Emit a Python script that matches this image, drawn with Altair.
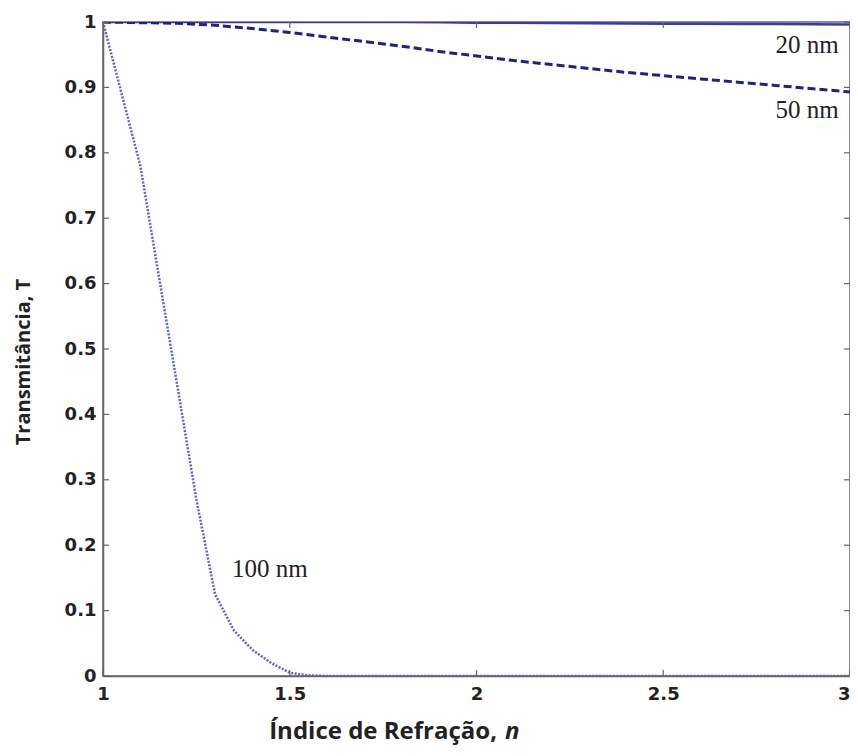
import altair as alt
import pandas as pd

# ---- data ----
n_grid = [1.0, 1.1, 1.2, 1.3, 1.4, 1.5, 1.6, 1.7, 1.8, 1.9, 2.0,
          2.1, 2.2, 2.3, 2.4, 2.5, 2.6, 2.7, 2.8, 2.9, 3.0]
t_20nm = [1.0, 1.0, 1.0, 1.0, 1.0, 1.0, 1.0, 1.0, 1.0, 0.9995, 0.999,
          0.9988, 0.9985, 0.998, 0.9978, 0.9975, 0.9972, 0.997, 0.9968, 0.9965, 0.996]
t_50nm = [1.0, 0.999, 0.998, 0.995, 0.990, 0.984, 0.977, 0.970, 0.963, 0.955, 0.948,
          0.941, 0.935, 0.929, 0.923, 0.918, 0.913, 0.908, 0.903, 0.898, 0.893]

n_100 = [1.0, 1.05, 1.1, 1.15, 1.2, 1.25, 1.3, 1.35, 1.4, 1.45, 1.5, 1.55, 1.6,
         1.8, 2.0, 2.2, 2.4, 2.6, 2.8, 3.0]
t_100nm = [1.0, 0.89, 0.78, 0.61, 0.44, 0.27, 0.125, 0.07, 0.04, 0.02, 0.005, 0.001, 0.0,
           0.0, 0.0, 0.0, 0.0, 0.0, 0.0, 0.0]

x_ticks = [1, 1.5, 2, 2.5, 3]
y_ticks = [0, 0.1, 0.2, 0.3, 0.4, 0.5, 0.6, 0.7, 0.8, 0.9, 1]

label_text = ["20 nm", "50 nm", "100 nm"]
label_n = [2.885, 2.885, 1.447]
label_t = [0.953, 0.853, 0.151]

x_title = "Índice de Refração,"
x_title_var = "n"
y_title = "Transmitância, T"

# ---- layout ----
W, H = 747, 654

df20 = pd.DataFrame({"n": n_grid, "T": t_20nm})
df50 = pd.DataFrame({"n": n_grid, "T": t_50nm})
df100 = pd.DataFrame({"n": n_100, "T": t_100nm})
dfx = pd.DataFrame({"v": x_ticks})
dfy = pd.DataFrame({"v": y_ticks})
dflab = pd.DataFrame({"text": label_text, "n": label_n, "T": label_t})

xs = alt.Scale(domain=[1, 3], nice=False, zero=False)
ys = alt.Scale(domain=[0, 1], nice=False)

lab_font = "DejaVu Sans"
xaxis = alt.Axis(values=x_ticks, format="~g", ticks=False, grid=False, title=None,
                 labelFont=lab_font, labelFontWeight="bold", labelFontSize=18,
                 labelColor="#222222", labelPadding=9, domainColor="#666666",
                 domainWidth=1.5, labelFlush=False,
                 labelAlign={"condition": {"test": "datum.value >= 3", "value": "right"},
                             "value": "center"})
yaxis = alt.Axis(values=y_ticks, format="~g", ticks=False, grid=False, title=None,
                 labelFont=lab_font, labelFontWeight="bold", labelFontSize=18,
                 labelColor="#222222", labelPadding=7, domainColor="#666666",
                 domainWidth=1.5, labelFlush=False)

base_x = alt.X("n:Q", scale=xs, axis=xaxis)
base_y = alt.Y("T:Q", scale=ys, axis=yaxis)

line20 = alt.Chart(df20).mark_line(color="#3a3aa8", strokeWidth=2.5, clip=True).encode(
    x=base_x, y=base_y)
line50 = alt.Chart(df50).mark_line(color="#20208a", strokeWidth=3, strokeDash=[8, 4],
                                   clip=True).encode(x=base_x, y=base_y)
line100 = alt.Chart(df100).mark_line(color="#5f5fd6", strokeWidth=2.5, strokeDash=[2, 1.5],
                                     clip=True).encode(x=base_x, y=base_y)

tick_col = "#666666"
xt_bottom = alt.Chart(dfx).mark_rule(color=tick_col, strokeWidth=1.2).encode(
    x=alt.X("v:Q", scale=xs), y=alt.value(H), y2=alt.value(H - 6))
xt_top = alt.Chart(dfx).mark_rule(color=tick_col, strokeWidth=1.2).encode(
    x=alt.X("v:Q", scale=xs), y=alt.value(0), y2=alt.value(6))
yt_left = alt.Chart(dfy).mark_rule(color=tick_col, strokeWidth=1.2).encode(
    y=alt.Y("v:Q", scale=ys), x=alt.value(0), x2=alt.value(6))
yt_right = alt.Chart(dfy).mark_rule(color=tick_col, strokeWidth=1.2).encode(
    y=alt.Y("v:Q", scale=ys), x=alt.value(W - 6), x2=alt.value(W))

labels = alt.Chart(dflab).mark_text(font="Liberation Serif", fontSize=25, color="#222222",
                                    align="center", baseline="alphabetic").encode(
    x=alt.X("n:Q", scale=xs), y=alt.Y("T:Q", scale=ys), text="text:N")

title_font = "Open Sans"
xt1 = alt.Chart(pd.DataFrame({"t": [x_title]})).mark_text(
    font=title_font, fontWeight="bold", fontSize=24, color="#222222",
    align="right", baseline="alphabetic").encode(
    x=alt.value(394), y=alt.value(717), text="t:N")
xt2 = alt.Chart(pd.DataFrame({"t": [x_title_var]})).mark_text(
    font=title_font, fontWeight="bold", fontStyle="italic", fontSize=24, color="#222222",
    align="left", baseline="alphabetic").encode(
    x=alt.value(402), y=alt.value(717), text="t:N")
yt = alt.Chart(pd.DataFrame({"t": [y_title]})).mark_text(
    font=title_font, fontWeight="bold", fontSize=20, color="#222222", angle=270,
    align="center", baseline="middle").encode(
    x=alt.value(-79), y=alt.value(340), text="t:N")

chart = alt.layer(
    line20, line50, line100, xt_bottom, xt_top, yt_left, yt_right, labels, xt1, xt2, yt
).properties(
    width=W, height=H,
    autosize=alt.AutoSizeParams(type="none"),
    padding={"left": 95, "top": 14, "right": 0, "bottom": 72},
    background="white",
).configure_view(stroke="#666666", strokeWidth=1.5)

chart.save("out.html", embed_options={"renderer": "svg", "actions": False})
